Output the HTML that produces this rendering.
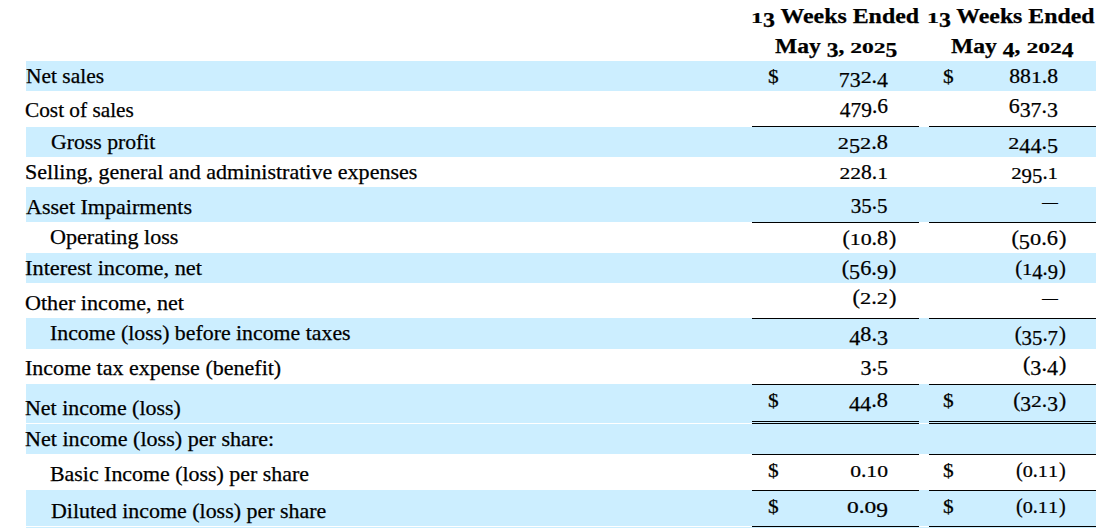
<!DOCTYPE html>
<html><head><meta charset="utf-8"><title>Statement of Operations</title>
<style>
html,body{margin:0;padding:0;background:#fff;}
body{width:1116px;height:528px;overflow:hidden;position:relative;font-family:"Liberation Serif",serif;color:#000;-webkit-text-stroke:0.25px #000;}
.b{position:absolute;left:26px;width:1070px;background:#cceeff;}
.l{position:absolute;height:1px;background:#000;}
.t{position:absolute;white-space:nowrap;font-size:21px;line-height:30px;height:30px;transform-origin:0 0;}
.r{position:absolute;white-space:nowrap;font-size:21px;line-height:30px;height:30px;text-align:right;width:120px;}
.h{position:absolute;white-space:nowrap;font-weight:bold;font-size:20px;line-height:30px;height:30px;transform-origin:0 0;}
.dash{position:absolute;height:1px;background:#000;}
.s{display:inline-block;transform:scaleY(0.77);transform-origin:50% 22px;}
.d{position:relative;top:4px;}
.p{position:absolute;top:0;}
</style></head><body>

<div class="b" style="top:61px;height:30px"></div>
<div class="b" style="top:127px;height:30px"></div>
<div class="b" style="top:187px;height:35px"></div>
<div class="b" style="top:253px;height:30px"></div>
<div class="b" style="top:318px;height:31px"></div>
<div class="b" style="top:384px;height:39px"></div>
<div class="b" style="top:424px;height:30px"></div>
<div class="b" style="top:490px;height:36px"></div>
<div class="b" style="top:527px;height:1px"></div>
<div class="l" style="top:126px;left:752px;width:167px"></div>
<div class="l" style="top:126px;left:929px;width:167px"></div>
<div class="l" style="top:222px;left:752px;width:167px"></div>
<div class="l" style="top:222px;left:929px;width:167px"></div>
<div class="l" style="top:318px;left:752px;width:167px"></div>
<div class="l" style="top:318px;left:929px;width:167px"></div>
<div class="l" style="top:384px;left:752px;width:167px"></div>
<div class="l" style="top:384px;left:929px;width:167px"></div>
<div class="l" style="top:421px;left:752px;width:167px"></div>
<div class="l" style="top:421px;left:929px;width:167px"></div>
<div class="l" style="top:423px;left:752px;width:167px"></div>
<div class="l" style="top:423px;left:929px;width:167px"></div>
<div class="l" style="top:454px;left:752px;width:167px"></div>
<div class="l" style="top:454px;left:929px;width:167px"></div>
<div class="l" style="top:490px;left:752px;width:167px"></div>
<div class="l" style="top:490px;left:929px;width:167px"></div>
<div class="l" style="top:526px;left:752px;width:167px"></div>
<div class="l" style="top:526px;left:929px;width:167px"></div>
<div class="h" style="left:750.50px;top:0.6px;transform:scaleX(1.1935)"><span class="s">1</span><span class="d">3</span> Weeks Ended</div>
<div class="h" style="left:774.50px;top:31.2px;transform:scaleX(1.1782)">May <span class="d">3</span>, <span class="s">2</span><span class="s">0</span><span class="s">2</span><span class="d">5</span></div>
<div class="h" style="left:927.10px;top:0.6px;transform:scaleX(1.1892)"><span class="s">1</span><span class="d">3</span> Weeks Ended</div>
<div class="h" style="left:950.70px;top:31.2px;transform:scaleX(1.1801)">May <span class="d">4</span>, <span class="s">2</span><span class="s">0</span><span class="s">2</span><span class="d">4</span></div>
<div class="t" style="left:26.30px;top:60.7px;transform:scaleX(1.0209)">Net sales</div>
<div class="t" style="left:25.30px;top:95.2px;transform:scaleX(1.0139)">Cost of sales</div>
<div class="t" style="left:50.50px;top:126.7px;transform:scaleX(1.0345)">Gross profit</div>
<div class="t" style="left:24.90px;top:156.5px;transform:scaleX(1.0497)">Selling, general and administrative expenses</div>
<div class="t" style="left:26.30px;top:191.5px;transform:scaleX(1.0502)">Asset Impairments</div>
<div class="t" style="left:49.70px;top:221.7px;transform:scaleX(1.0535)">Operating loss</div>
<div class="t" style="left:25.30px;top:252.5px;transform:scaleX(1.0651)">Interest income, net</div>
<div class="t" style="left:25.30px;top:287.6px;transform:scaleX(1.0528)">Other income, net</div>
<div class="t" style="left:49.90px;top:318.3px;transform:scaleX(1.0393)">Income (loss) before income taxes</div>
<div class="t" style="left:25.30px;top:353.4px;transform:scaleX(1.0487)">Income tax expense (benefit)</div>
<div class="t" style="left:25.30px;top:392.5px;transform:scaleX(1.0437)">Net income (loss)</div>
<div class="t" style="left:25.30px;top:423.8px;transform:scaleX(1.0526)">Net income (loss) per share:</div>
<div class="t" style="left:50.30px;top:459.0px;transform:scaleX(1.0426)">Basic Income (loss) per share</div>
<div class="t" style="left:51.30px;top:495.5px;transform:scaleX(1.0440)">Diluted income (loss) per share</div>
<div class="t" style="left:768.3px;top:62px;font-size:19px;transform:scaleX(1.12)">$</div>
<div class="t" style="left:943.3px;top:62px;font-size:19px;transform:scaleX(1.12)">$</div>
<div class="r" style="left:767.5px;top:61px;transform:scaleX(1.0414);transform-origin:120px 0"><span class="d">7</span><span class="d">3</span><span class="s">2</span>.<span class="d">4</span></div>
<div class="r" style="left:938.0px;top:61px;transform:scaleX(1.0320);transform-origin:120px 0">88<span class="s">1</span>.8</div>
<div class="r" style="left:767.5px;top:91px;transform:scaleX(1.0195);transform-origin:120px 0"><span class="d">4</span><span class="d">7</span><span class="d">9</span>.6</div>
<div class="r" style="left:938.0px;top:91px;transform:scaleX(1.0430);transform-origin:120px 0">6<span class="d">3</span><span class="d">7</span>.<span class="d">3</span></div>
<div class="r" style="left:767.5px;top:127px;transform:scaleX(1.0625);transform-origin:120px 0"><span class="s">2</span><span class="d">5</span><span class="s">2</span>.8</div>
<div class="r" style="left:938.0px;top:127px;transform:scaleX(1.0513);transform-origin:120px 0"><span class="s">2</span><span class="d">4</span><span class="d">4</span>.<span class="d">5</span></div>
<div class="r" style="left:767.5px;top:157px;transform:scaleX(1.0260);transform-origin:120px 0"><span class="s">2</span><span class="s">2</span>8.<span class="s">1</span></div>
<div class="r" style="left:938.0px;top:157px;transform:scaleX(0.9915);transform-origin:120px 0"><span class="s">2</span><span class="d">9</span><span class="d">5</span>.<span class="s">1</span></div>
<div class="r" style="left:767.5px;top:187px"><span class="d">3</span><span class="d">5</span>.<span class="d">5</span></div>
<div class="t" style="left:1042px;top:187px;font-size:16px;-webkit-text-stroke:0">&mdash;</div>
<div class="r" style="left:767.5px;top:223px;transform:scaleX(1.0425);transform-origin:120px 0">(<span class="s">1</span><span class="s">0</span>.8<span class="p" style="left:121px">)</span></div>
<div class="r" style="left:938.0px;top:223px;transform:scaleX(1.0653);transform-origin:120px 0">(<span class="d">5</span><span class="s">0</span>.6<span class="p" style="left:121px">)</span></div>
<div class="r" style="left:767.5px;top:253px;transform:scaleX(1.0579);transform-origin:120px 0">(<span class="d">5</span>6.<span class="d">9</span><span class="p" style="left:121px">)</span></div>
<div class="r" style="left:938.0px;top:253px;transform:scaleX(0.9792);transform-origin:120px 0">(<span class="s">1</span><span class="d">4</span>.<span class="d">9</span><span class="p" style="left:121px">)</span></div>
<div class="r" style="left:767.5px;top:282px;transform:scaleX(1.0681);transform-origin:120px 0">(<span class="s">2</span>.<span class="s">2</span><span class="p" style="left:121px">)</span></div>
<div class="t" style="left:1042px;top:283px;font-size:16px;-webkit-text-stroke:0">&mdash;</div>
<div class="r" style="left:767.5px;top:319px;transform:scaleX(1.0548);transform-origin:120px 0"><span class="d">4</span>8.<span class="d">3</span></div>
<div class="r" style="left:938.0px;top:319px;transform:scaleX(0.9910);transform-origin:120px 0">(<span class="d">3</span><span class="d">5</span>.<span class="d">7</span><span class="p" style="left:121px">)</span></div>
<div class="r" style="left:767.5px;top:349px;transform:scaleX(1.0478);transform-origin:120px 0"><span class="d">3</span>.<span class="d">5</span></div>
<div class="r" style="left:938.0px;top:349px;transform:scaleX(1.0532);transform-origin:120px 0">(<span class="d">3</span>.<span class="d">4</span><span class="p" style="left:121px">)</span></div>
<div class="t" style="left:768.3px;top:386px;font-size:19px;transform:scaleX(1.12)">$</div>
<div class="t" style="left:943.3px;top:386px;font-size:19px;transform:scaleX(1.12)">$</div>
<div class="r" style="left:767.5px;top:385px;transform:scaleX(1.0630);transform-origin:120px 0"><span class="d">4</span><span class="d">4</span>.8</div>
<div class="r" style="left:938.0px;top:385px;transform:scaleX(1.0257);transform-origin:120px 0">(<span class="d">3</span><span class="s">2</span>.<span class="d">3</span><span class="p" style="left:121px">)</span></div>
<div class="t" style="left:768.3px;top:456px;font-size:19px;transform:scaleX(1.12)">$</div>
<div class="t" style="left:943.3px;top:456px;font-size:19px;transform:scaleX(1.12)">$</div>
<div class="r" style="left:767.5px;top:455px;transform:scaleX(1.0304);transform-origin:120px 0"><span class="s">0</span>.<span class="s">1</span><span class="s">0</span></div>
<div class="r" style="left:938.0px;top:455px;transform:scaleX(0.9605);transform-origin:120px 0">(<span class="s">0</span>.<span class="s">1</span><span class="s">1</span><span class="p" style="left:121px">)</span></div>
<div class="t" style="left:768.3px;top:492px;font-size:19px;transform:scaleX(1.12)">$</div>
<div class="t" style="left:943.3px;top:492px;font-size:19px;transform:scaleX(1.12)">$</div>
<div class="r" style="left:767.5px;top:491px;transform:scaleX(1.1188);transform-origin:120px 0"><span class="s">0</span>.<span class="s">0</span><span class="d">9</span></div>
<div class="r" style="left:938.0px;top:491px;transform:scaleX(0.9605);transform-origin:120px 0">(<span class="s">0</span>.<span class="s">1</span><span class="s">1</span><span class="p" style="left:121px">)</span></div>
</body></html>
